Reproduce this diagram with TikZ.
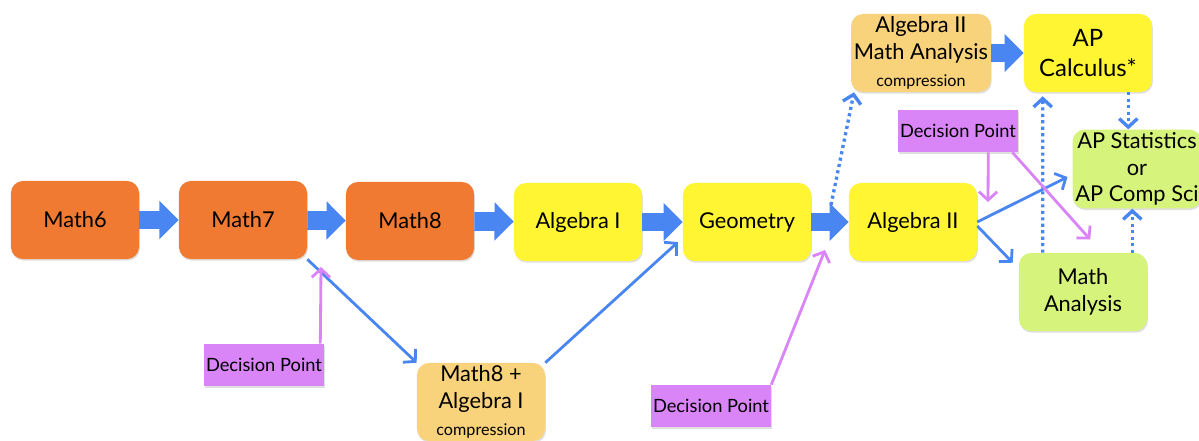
\documentclass[tikz,border=0pt]{standalone}
\usepackage{fontspec}
\setmainfont{Lato}
\usetikzlibrary{arrows.meta,calc,shadows}

\definecolor{mathorange}{HTML}{F07A32}
\definecolor{mathyellow}{HTML}{FFF533}
\definecolor{comprorange}{HTML}{F9D37C}
\definecolor{apgreen}{HTML}{D6F37B}
\definecolor{decpurple}{HTML}{D985F7}
\definecolor{pathblue}{HTML}{4A86F2}

\newcommand{\smalltag}[1]{{\fontsize{11.5}{13}\selectfont #1}}

\tikzset{
  course/.style={rounded corners=0.3cm, minimum width=3.2cm, minimum height=1.95cm,
    align=center, inner sep=2pt, font=\fontsize{15.5}{19}\selectfont,
    drop shadow={shadow xshift=0.6pt, shadow yshift=-1.2pt, opacity=0.25}},
  middle/.style={course, fill=mathorange},
  high/.style={course, fill=mathyellow},
  compr/.style={course, fill=comprorange},
  elective/.style={course, fill=apgreen},
  decision/.style={fill=decpurple, minimum width=3.0cm, minimum height=1.05cm,
    inner sep=1pt, font=\fontsize{13}{15}\selectfont,
    drop shadow={shadow xshift=0.6pt, shadow yshift=-1.2pt, opacity=0.25}},
  flow/.style={draw=pathblue, line width=0.47cm,
    -{Triangle[length=0.48cm, width=0.93cm]}},
  option/.style={draw=pathblue, line width=2pt,
    -{Straight Barb[length=6pt, width=13pt]}},
  maybe/.style={draw=pathblue, line width=2.4pt, dash pattern=on 2.2pt off 2.4pt,
    -{Straight Barb[length=6pt, width=13pt]}},
  choice/.style={draw=decpurple, line width=2pt,
    -{Straight Barb[length=6pt, width=13pt]}}
}

\begin{document}
\begin{tikzpicture}[x=0.025cm, y=-0.025cm]

  \useasboundingbox (0,0) rectangle (1199,441);

  % ---- main row: middle school to Algebra II ----
  \node[middle] (m6)   at (75,220)  {Math6};
  \node[middle] (m7)   at (243,220) {Math7};
  \node[middle] (m8)   at (410,221) {Math8};
  \node[high]   (alg1) at (578,222) {Algebra I};
  \node[high]   (geo)  at (747,222) {Geometry};
  \node[high]   (alg2) at (913,222) {Algebra II};

  % ---- accelerated / compression courses ----
  \node[compr] (m8a) at (481,402) {Math8 +\\Algebra I\\\smalltag{compression}};
  \node[compr] (a2c) at (921,53)  {Algebra II\\Math Analysis\\\smalltag{compression}};

  % ---- upper level courses ----
  \node[high, font=\fontsize{17}{21}\selectfont] (apcalc) at (1088,53) {AP\\Calculus*};
  \node[elective] (apstat) at (1137,169) {AP Statistics\\or\\AP Comp Sci};
  \node[elective] (ma)     at (1083,292) {Math\\Analysis};

  % ---- decision points ----
  \node[decision] (dp1) at (264,365) {Decision Point};
  \node[decision] (dp2) at (958,131) {Decision Point};
  \node[decision] (dp3) at (711,406) {Decision Point};

  % ---- free ends ----
  \coordinate (fork)   at (831,205);
  \coordinate (dp1tip) at (321,267);
  \coordinate (dp2tip) at (988,202);
  \coordinate (dp3tip) at (825,250);

  % ---- block arrows of the standard sequence ----
  \draw[flow] (m6) -- (m7);
  \draw[flow] (m7) -- (m8);
  \draw[flow] (m8) -- (alg1);
  \draw[flow] (alg1) -- (geo);
  \draw[flow] (geo) -- (alg2);
  \draw[flow] (a2c) -- (apcalc);

  % ---- thin arrows: alternative routes ----
  \draw[option] (m7.south east) -- (m8a.north west);
  \draw[option] (m8a.north east) -- ([xshift=-0.12cm, yshift=0.48cm]geo.south west);
  \draw[option] (alg2.east) -- ([xshift=-0.12cm, yshift=-0.2cm]apstat.west);
  \draw[option] ([yshift=-0.1cm]alg2.east) -- ([xshift=-0.15cm, yshift=-0.25cm]ma.north west);

  % ---- dotted arrows: possible moves ----
  \draw[maybe] (fork) -- ([xshift=0.08cm]a2c.south west);
  \draw[maybe] ([xshift=0.6cm]ma.north west) -- ([xshift=0.475cm, yshift=-0.1cm]apcalc.south west);
  \draw[maybe] ([xshift=-0.6cm]apcalc.south east) -- ([xshift=-0.6cm]apcalc.south east |- apstat.north);
  \draw[maybe] ([xshift=-0.375cm]ma.north east) -- ([xshift=-0.375cm]ma.north east |- apstat.south);

  % ---- decision point arrows ----
  \draw[choice] ([xshift=-0.1cm]dp1.north east) -- (dp1tip);
  \draw[choice] (dp3.north east) -- (dp3tip);
  \draw[choice] ([xshift=-0.75cm]dp2.south east) -- (dp2tip);
  \draw[choice] ([xshift=-0.15cm]dp2.south east) -- ([xshift=0.18cm, yshift=0.33cm]ma.north);

\end{tikzpicture}
\end{document}
